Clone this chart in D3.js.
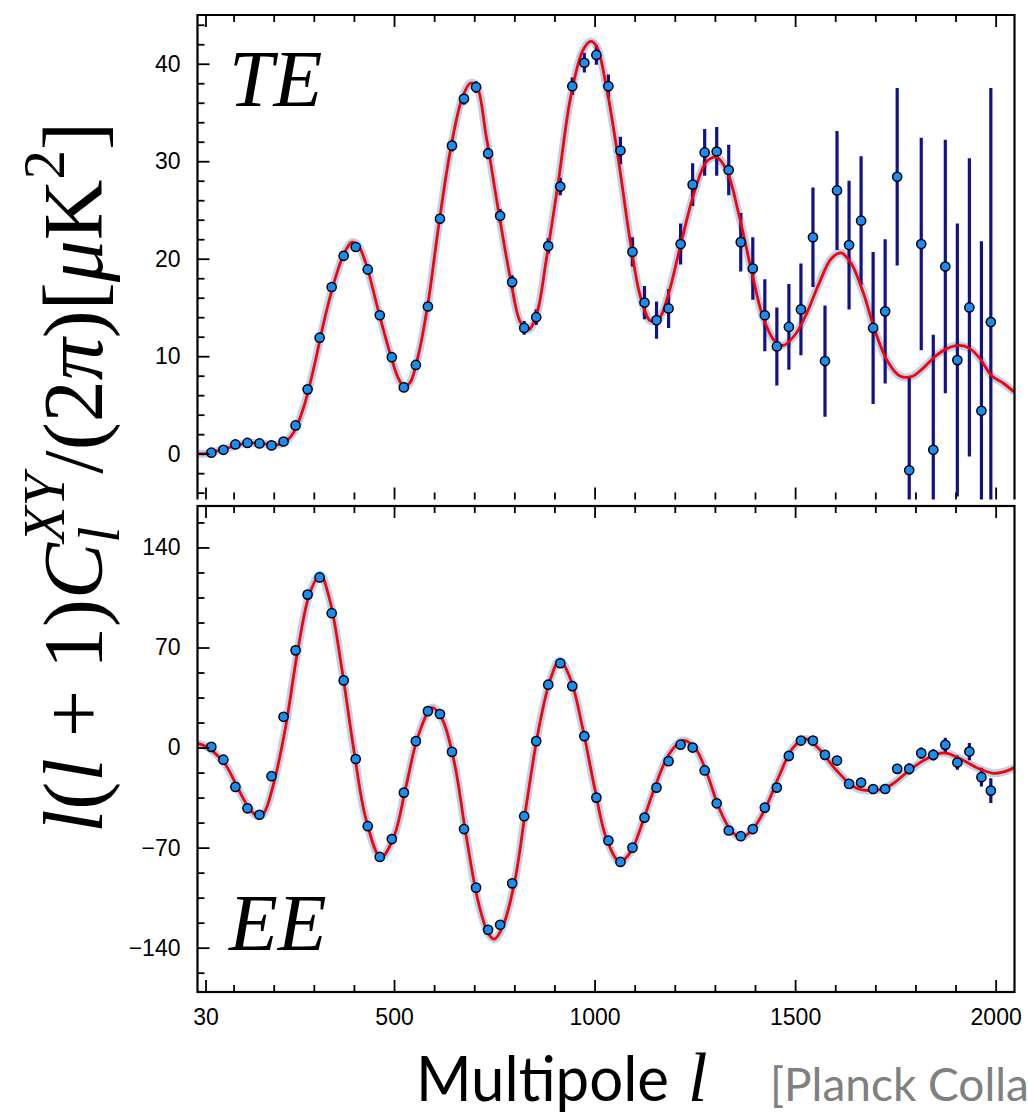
<!DOCTYPE html>
<html>
<head>
    <meta charset="utf-8">
    <script src="https://cdn.jsdelivr.net/npm/d3@7"></script>
    <style>
        body { margin: 0; background: #fff; }
        .tick text { font-family: "Liberation Sans", Arial, sans-serif; font-size: 23px; fill: #000; }
        .tick line { stroke: #000; stroke-width: 1.8px; }
        .frame { fill: none; stroke: #000; stroke-width: 2.2px; }
        .halo { fill: none; stroke: #a9c8ee; stroke-width: 8px; stroke-opacity: 0.8; }
        .model { fill: none; stroke: #ff0000; stroke-width: 2.8px; }
        .err { stroke: #10128a; stroke-width: 3.2px; }
        .dot { fill: #1a8cf2; stroke: #000; stroke-width: 1.5px; }
    </style>
</head>
<body>
<div id="chart"></div>
<script>

    // multipole bin centres (shared by TE and EE)
    var ell = [44.5, 74.5, 104.5, 134.5, 164.5, 194.5, 224.5, 254.5, 284.5, 314.5,
        344.5, 374.5, 404.5, 434.5, 464.5, 494.5, 524.5, 554.5, 584.5, 614.5,
        644.5, 674.5, 704.5, 734.5, 764.5, 794.5, 824.5, 854.5, 884.5, 914.5,
        944.5, 974.5, 1004.5, 1034.5, 1064.5, 1094.5, 1124.5, 1154.5, 1184.5, 1214.5,
        1244.5, 1274.5, 1304.5, 1334.5, 1364.5, 1394.5, 1424.5, 1454.5, 1484.5, 1514.5,
        1544.5, 1574.5, 1604.5, 1634.5, 1664.5, 1694.5, 1724.5, 1754.5, 1784.5, 1814.5,
        1844.5, 1874.5, 1904.5, 1934.5, 1964.5, 1988];

    var teValues = [0.1, 0.4, 0.95, 1.1, 1.05, 0.85, 1.25, 2.9, 6.6, 11.9,
        17.1, 20.3, 21.2, 18.9, 14.2, 9.9, 6.8, 9.1, 15.1, 24.1,
        31.6, 36.4, 37.6, 30.8, 24.4, 17.6, 12.9, 14.0, 21.3, 27.4,
        37.7, 40.1, 40.9, 37.7, 31.1, 20.7, 15.5, 13.7, 14.9, 21.5,
        27.6, 30.9, 31.0, 29.1, 21.7, 19.0, 14.2, 11.0, 13.0, 14.8,
        22.2, 9.5, 27.0, 21.4, 23.9, 12.9, 14.6, 28.4, -1.7, 21.5,
        0.4, 19.2, 9.6, 15.0, 4.4, 13.5];

    var teErrors = [0.3, 0.3, 0.3, 0.3, 0.3, 0.3, 0.3, 0.3, 0.3, 0.3,
        0.4, 0.4, 0.4, 0.4, 0.4, 0.4, 0.4, 0.4, 0.4, 0.4,
        0.6, 0.6, 0.6, 0.6, 0.7, 0.7, 0.7, 0.8, 0.8, 0.9,
        0.9, 1.0, 1.0, 1.2, 1.4, 1.5, 1.7, 1.9, 2.0, 2.1,
        2.2, 2.4, 2.5, 2.6, 3.0, 3.2, 3.7, 4.0, 4.4, 4.7,
        5.1, 5.7, 6.1, 6.6, 6.6, 7.8, 7.4, 9.1, 9.5, 10.9,
        11.8, 13.0, 14.0, 15.3, 17.4, 24.0];

    var eeValues = [0.5, -8.5, -27.5, -42.5, -47, -20, 21.5, 68, 107, 119,
        94, 47, -8, -55, -76.5, -64, -31.5, 4.5, 25.5, 23.5,
        -3, -57, -98, -127.5, -124, -95, -48, 4.5, 44, 59,
        43, 8, -35, -65, -80, -70, -49, -28, -9.5, 2,
        0, -16, -39, -58, -62, -57, -42, -28, -5.8, 4.9,
        4.9, -5.1, -9.1, -25.4, -24.5, -29, -29, -14.9, -14.9, -3.9,
        -5.1, 1.9, -10.5, -2.8, -20.7, -30.1];

    var eeErrors = [1.5, 1.5, 1.5, 1.5, 1.5, 1.5, 1.5, 1.5, 1.5, 1.5,
        1.5, 1.5, 1.5, 1.5, 1.5, 1.5, 1.5, 1.5, 1.5, 1.5,
        2, 2, 2, 2, 2, 2, 2, 2, 2, 2,
        2, 2, 2, 2, 2, 2, 2, 2, 2, 2,
        2.5, 2.5, 2.5, 2.5, 2.5, 2.5, 2.5, 2.5, 2.5, 2.5,
        3, 3, 3, 3, 3, 3.5, 3.5, 3.5, 4, 4,
        4, 5, 5, 6, 6.5, 8.7];

    // best-fit model curves
    var teModelL = [10, 30, 50, 80, 110, 140, 170, 200, 225, 250, 275, 300, 325, 350, 375, 395, 410, 430,
        460, 490, 510, 525, 540, 560, 585, 610, 640, 670, 690, 705, 730, 760, 790, 815, 835, 855, 880,
        910, 940, 970, 990, 1005, 1030, 1060, 1090, 1115, 1140, 1160, 1185, 1215, 1250, 1280, 1305,
        1330, 1360, 1390, 1420, 1450, 1470, 1500, 1530, 1560, 1590, 1615, 1640, 1670, 1700, 1730,
        1760, 1790, 1820, 1850, 1880, 1910, 1935, 1960, 1990, 2020, 2047];
    var teModel = [0, 0, 0.2, 0.5, 0.9, 1.1, 1.05, 0.9, 1.1, 2.2, 4.8, 8.8, 13.5, 17.5, 20.5, 21.7, 21.4, 19.5,
        14.8, 10.3, 7.8, 6.9, 7.3, 10, 15.5, 23, 31, 36.5, 38.0, 37.8, 32.5, 25, 18, 13.5, 12.7, 14.2, 20,
        28, 36.5, 41.3, 42.3, 41.8, 37.5, 30, 21.5, 16, 13.6, 13.8, 16.5, 21.5, 27, 30, 30.4,
        29, 24.5, 19, 14, 11.5, 11.1, 12.2, 14.5, 17.5, 20, 20.6, 19.5, 16.5, 12.5, 9.5,
        8, 7.9, 8.8, 10, 10.8, 11.1, 10.8, 9.8, 8, 7.2, 6.3];

    var eeModelL = [10, 30, 50, 80, 110, 140, 160, 175, 200, 230, 260, 290, 316, 340, 370, 400, 430, 467,
        500, 530, 560, 595, 620, 650, 680, 710, 735, 750, 770, 800, 830, 860, 890, 913, 940, 970,
        1000, 1030, 1063, 1090, 1120, 1150, 1185, 1220, 1250, 1280, 1310, 1340, 1365, 1395, 1425,
        1460, 1495, 1527, 1560, 1600, 1650, 1700, 1740, 1780, 1820, 1860, 1880, 1920, 1960, 1995,
        2020, 2047];
    var eeModel = [3, 1, -3, -12, -28, -43, -48, -46, -25, 15, 68, 108, 121, 103, 55, -2, -50, -77,
        -62, -27, 8, 28, 20, -10, -62, -108, -130, -134, -126, -95, -40, 12, 48, 61, 48, 14,
        -28, -64, -80, -73, -52, -28, -5, 5, 0, -18, -42, -58, -63, -57, -43,
        -20, 0, 6, -1, -15, -28, -30, -26, -17, -9, -4, -4, -9, -15, -18,
        -17, -14];

    var xTicks = [30, 500, 1000, 1500, 2000];
    var xMinor = [100, 200, 300, 400, 600, 700, 800, 900, 1100, 1200, 1300, 1400, 1600, 1700, 1800, 1900];
    var teTicks = [0, 10, 20, 30, 40];
    var teMinor = [-4, -2, 2, 4, 6, 8, 12, 14, 16, 18, 22, 24, 26, 28, 32, 34, 36, 38, 42, 44];
    var eeTicks = [-140, -70, 0, 70, 140];
    var eeMinor = [-157.5, -122.5, -105, -87.5, -52.5, -35, -17.5, 17.5, 35, 52.5, 87.5, 105, 122.5, 157.5];

    var width = 1028, height = 1112;
    var left = 197.5, right = 1014.5;
    var top1 = 15, bot1 = 499.5, top2 = 506, bot2 = 992;

    var svg = d3.select("#chart").append("svg")
        .attr("width", width)
        .attr("height", height);

    var x = d3.scaleLinear().domain([10, 2047]).range([left, right]);
    var yTE = d3.scaleLinear().domain([-4.7, 45]).range([bot1, top1]);
    var yEE = d3.scaleLinear().domain([-171, 169]).range([bot2, top2]);

    var defs = svg.append("defs");
    defs.append("clipPath").attr("id", "clipTE").append("rect")
        .attr("x", left).attr("y", top1).attr("width", right - left).attr("height", bot1 - top1);
    defs.append("clipPath").attr("id", "clipEE").append("rect")
        .attr("x", left).attr("y", top2).attr("width", right - left).attr("height", bot2 - top2);

    function drawPanel(y, clipId, values, errors, modelL, model) {
        var g = svg.append("g").attr("clip-path", "url(#" + clipId + ")");
        var line = d3.line()
            .x(function (d) { return x(d[0]); })
            .y(function (d) { return y(d[1]); })
            .curve(d3.curveCatmullRom.alpha(0.5));
        var pts = d3.zip(modelL, model);

        g.append("path").attr("class", "halo").attr("d", line(pts));

        g.selectAll("line.err").data(ell).enter().append("line")
            .attr("class", "err")
            .attr("x1", function (d) { return x(d); })
            .attr("x2", function (d) { return x(d); })
            .attr("y1", function (d, i) { return y(values[i] - errors[i]); })
            .attr("y2", function (d, i) { return y(values[i] + errors[i]); });

        g.append("path").attr("class", "model").attr("d", line(pts));

        g.selectAll("circle.dot").data(ell).enter().append("circle")
            .attr("class", "dot")
            .attr("cx", function (d) { return x(d); })
            .attr("cy", function (d, i) { return y(values[i]); })
            .attr("r", 4.6);
    }

    function hAxis(gen, ypos, values, size, labels, pad) {
        var a = svg.append("g").attr("transform", "translate(0," + ypos + ")")
            .call(gen(x).tickValues(values).tickSize(size).tickPadding(pad || 0)
                .tickFormat(labels ? d3.format("d") : ""));
        a.select(".domain").remove();
        return a;
    }

    function vAxis(y, values, size, labels) {
        var a = svg.append("g").attr("transform", "translate(" + left + ",0)")
            .call(d3.axisLeft(y).tickValues(values).tickSize(size).tickPadding(17)
                .tickFormat(labels ? d3.format("d") : ""));
        a.select(".domain").remove();
    }

    drawPanel(yTE, "clipTE", teValues, teErrors, teModelL, teModel);
    drawPanel(yEE, "clipEE", eeValues, eeErrors, eeModelL, eeModel);

    // inward ticks on every framed edge
    hAxis(d3.axisTop, top1, xTicks, -12);
    hAxis(d3.axisTop, top1, xMinor, -7);
    hAxis(d3.axisBottom, bot1, xTicks, -12);
    hAxis(d3.axisBottom, bot1, xMinor, -7);
    hAxis(d3.axisTop, top2, xTicks, -12);
    hAxis(d3.axisTop, top2, xMinor, -7);
    hAxis(d3.axisBottom, bot2, xTicks, -12, true, 17);
    hAxis(d3.axisBottom, bot2, xMinor, -7);

    vAxis(yTE, teTicks, -12, true);
    vAxis(yTE, teMinor, -7);
    vAxis(yEE, eeTicks, -12, true);
    vAxis(yEE, eeMinor, -7);

    // frames (the upper panel has no bottom edge)
    svg.append("path").attr("class", "frame")
        .attr("d", "M" + left + "," + bot1 + "V" + top1 + "H" + right + "V" + bot1);
    svg.append("rect").attr("class", "frame")
        .attr("x", left).attr("y", top2).attr("width", right - left).attr("height", bot2 - top2);

    // panel labels
    var serif = '"Liberation Serif", "Times New Roman", serif';
    svg.append("text").attr("x", 229).attr("y", 106)
        .style("font-family", serif).style("font-style", "italic").style("font-size", "80px")
        .text("TE");
    svg.append("text").attr("x", 229).attr("y", 950)
        .style("font-family", serif).style("font-style", "italic").style("font-size", "80px")
        .text("EE");

    // y axis title
    var F = 84, S = 59;
    var yt = svg.append("text")
        .attr("transform", "translate(102,833) rotate(-90)")
        .style("font-family", serif).style("font-size", F + "px");
    yt.append("tspan").style("font-style", "italic").text("l");
    yt.append("tspan").text("(");
    yt.append("tspan").style("font-style", "italic").text("l");
    yt.append("tspan").text(" + 1)");
    yt.append("tspan").style("font-style", "italic").text("C");
    yt.append("tspan").style("font-style", "italic").style("font-size", S + "px").attr("dy", 17).text("l");
    yt.append("tspan").style("font-style", "italic").style("font-size", S + "px")
        .attr("dx", -16).attr("dy", -55).text("XY");
    yt.append("tspan").attr("dy", 38).text("/(2");
    yt.append("tspan").style("font-style", "italic").text("\u03c0");
    yt.append("tspan").text(")[");
    yt.append("tspan").style("font-style", "italic").text("\u03bc");
    yt.append("tspan").text("K");
    yt.append("tspan").style("font-size", S + "px").attr("dy", -38).text("2");
    yt.append("tspan").attr("dy", 38).text("]");

    // x axis title and credit
    var xt = svg.append("text").attr("x", 416).attr("y", 1101);
    xt.append("tspan").style("font-family", "Lato, sans-serif").style("font-size", "62px")
        .attr("textLength", 253).attr("lengthAdjust", "spacingAndGlyphs").text("Multipole");
    xt.append("tspan").attr("x", 688).style("font-family", serif).style("font-style", "italic")
        .style("font-size", "70px").text("l");
    svg.append("text").attr("x", 770).attr("y", 1101)
        .style("font-family", "Lato, sans-serif").style("font-size", "46px").style("fill", "#808080")
        .text("[Planck Collaboration 2015]");

</script>
</body>
</html>
